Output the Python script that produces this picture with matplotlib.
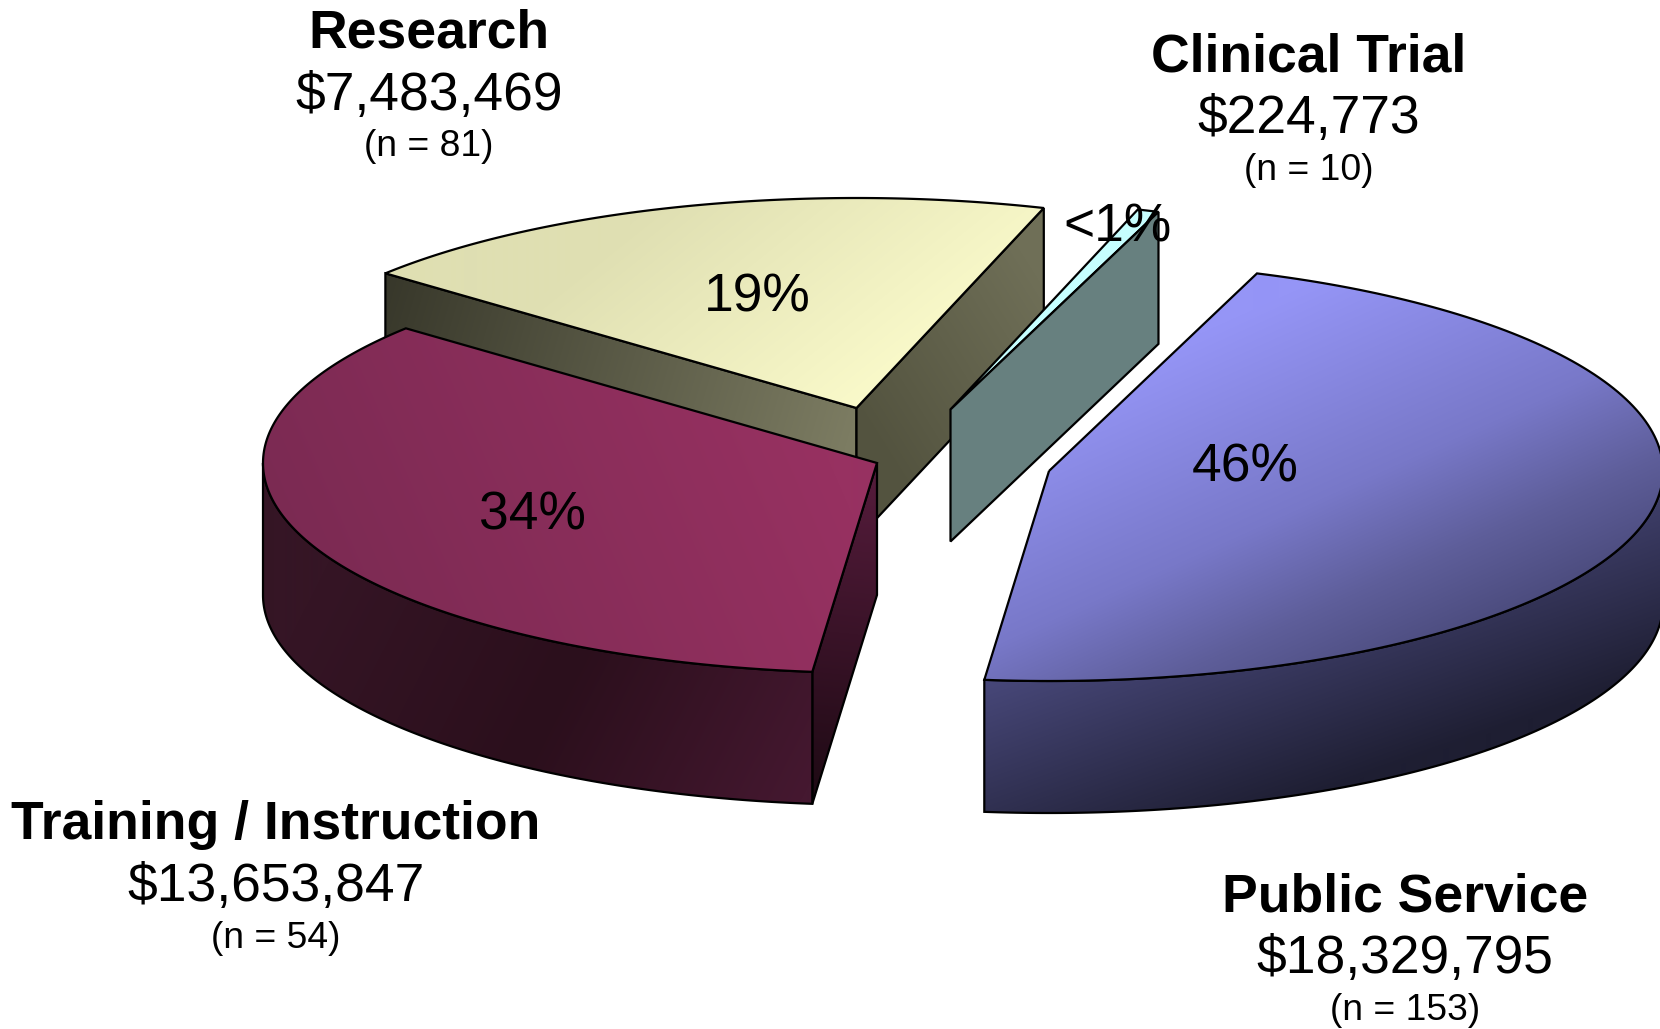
import numpy as np
import matplotlib
matplotlib.use("Agg")
import matplotlib.pyplot as plt
from matplotlib.path import Path
from matplotlib.patches import PathPatch
from matplotlib.colors import to_rgb

# ---- data (clockwise from the start angle) ----
categories = ["Public Service", "Training / Instruction", "Research", "Clinical Trial"]
amounts = [18329795, 13653847, 7483469, 224773]
counts = [153, 54, 81, 10]
pct_labels = ["46%", "34%", "19%", "<1%"]

plt.rcParams['font.family'] = ['Liberation Sans', 'DejaVu Sans']

W, H = 1660, 1029
fig = plt.figure(figsize=(W / 100, H / 100), dpi=100, facecolor='white')
ax = fig.add_axes([0, 0, 1, 1])
ax.axis('off')

A, B, DEPTH = 614, 210, 132
START = 70.2
LW = 1.6
apex = {"Public Service": (1049, 471), "Training / Instruction": (877, 463),
        "Research": (856.5, 408), "Clinical Trial": (950.5, 409.5)}

fractions = np.array(amounts, float) / sum(amounts)
edges = START - np.concatenate([[0], np.cumsum(fractions)]) * 360
span = {c: (edges[i], edges[i + 1]) for i, c in enumerate(categories)}


def arc(c, t0, t1, n=160):
    t = np.radians(np.linspace(t0, t1, n))
    return np.column_stack([c[0] + A * np.cos(t), c[1] - B * np.sin(t)])


def grad_poly(pts, p0, p1, stops):
    pts = np.asarray(pts)
    codes = [Path.MOVETO] + [Path.LINETO] * (len(pts) - 1) + [Path.CLOSEPOLY]
    path = Path(np.vstack([pts, pts[:1]]), codes)
    patch = PathPatch(path, fc='none', ec='black', lw=LW, joinstyle='miter', zorder=ax_z[0] + 1)
    x0, y0 = np.floor(pts.min(0)) - 1
    x1, y1 = np.ceil(pts.max(0)) + 1
    xx, yy = np.meshgrid(np.arange(x0, x1 + 1), np.arange(y0, y1 + 1))
    d = np.array(p1, float) - np.array(p0, float)
    tt = ((xx - p0[0]) * d[0] + (yy - p0[1]) * d[1]) / (d @ d)
    pos = [s[0] for s in stops]
    cols = np.array([to_rgb(s[1]) for s in stops])
    img = np.dstack([np.interp(tt, pos, cols[:, k]) for k in range(3)])
    im = ax.imshow(img, extent=(x0 - .5, x1 + .5, y1 + .5, y0 - .5), aspect='auto',
                   interpolation='bilinear', zorder=ax_z[0])
    ax.add_patch(patch)
    im.set_clip_path(patch)
    ax_z[0] += 2


ax_z = [1]
down = np.array([0, DEPTH])

# Research: back slice
c = apex["Research"]
t0, t1 = span["Research"]
a0 = arc(c, t0, t1)
p_left, p_right = a0[0], a0[-1]
grad_poly([p_left, c, np.array(c) + down, p_left + down], (385, 270), (855, 410),
          [(0, '#37372a'), (1, '#7c7c62')])
grad_poly([c, p_right, p_right + down, np.array(c) + down], (860, 420), (1050, 300),
          [(0, '#53533f'), (1, '#6f6f57')])
grad_poly(np.vstack([[c], a0]), (700, 170), (900, 420),
          [(0, '#dfdfb2'), (1, '#fdfdcd')])

# Clinical Trial: sliver
c = apex["Clinical Trial"]
t0, t1 = span["Clinical Trial"]
a0 = arc(c, t0, t1, 20)
end = a0[-1]
grad_poly(np.vstack([[c], a0]), (950, 400), (1160, 210), [(0, '#c6ffff'), (1, '#c6ffff')])
grad_poly([c, end, end + down, np.array(c) + down], (950, 400), (1160, 210),
          [(0, '#67807f'), (1, '#67807f')])

# Training / Instruction
c = apex["Training / Instruction"]
t0, t1 = span["Training / Instruction"]
a0 = arc(c, t0, t1)
start_pt = a0[0]
grad_poly([c, start_pt, start_pt + down, np.array(c) + down], (840, 800), (875, 470),
          [(0, '#1e0a14'), (1, '#561c3c')])
lower = arc(c, -180, t0)
grad_poly(np.vstack([lower, (lower + down)[::-1]]), (330, 560), (800, 800),
          [(0, '#351525'), (0.5, '#2b0f1c'), (1, '#451830')])
grad_poly(np.vstack([[c], a0]), (300, 620), (800, 400),
          [(0, '#7a2a52'), (1, '#973161')])

# Public Service
c = apex["Public Service"]
t0, t1 = span["Public Service"]
a0 = arc(c, t0, t1)
lower = arc(c, 0, t1)
grad_poly(np.vstack([lower, (lower + down)[::-1]]), (985, 680), (1057, 885),
          [(0, '#48487a'), (0.6, '#2f2f4f'), (1, '#1e1e32')])
grad_poly(np.vstack([[c], a0]), (328, 728), (484, 1074),
          [(0, '#9595f6'), (0.526, '#7878c8'), (0.789, '#5e5e9a'), (1, '#4c4c7e')])

# ---- labels ----
lab_pos = {"Research": (429, 34), "Clinical Trial": (1308.5, 57),
           "Training / Instruction": (276, 825.5), "Public Service": (1405, 897.5)}
pct_pos = {"Research": (757, 298), "Clinical Trial": (1117, 228),
           "Training / Instruction": (532.5, 515), "Public Service": (1245, 467)}
ZT = 100
for cat, amt, cnt, pct in zip(categories, amounts, counts, pct_labels):
    x, y = lab_pos[cat]
    ax.text(x, y, cat, fontsize=38.5, fontweight='bold', ha='center', va='center', zorder=ZT)
    ax.text(x, y + 62, f"${amt:,}", fontsize=38.4, ha='center', va='center', zorder=ZT)
    ax.text(x, y + 113, f"(n = {cnt})", fontsize=26.8, ha='center', va='center', zorder=ZT)
    ax.text(*pct_pos[cat], pct, fontsize=38.4, ha='center', va='center', zorder=ZT)

ax.set_xlim(0, W)
ax.set_ylim(H, 0)
fig.savefig("out.png", dpi=100, facecolor='white')
